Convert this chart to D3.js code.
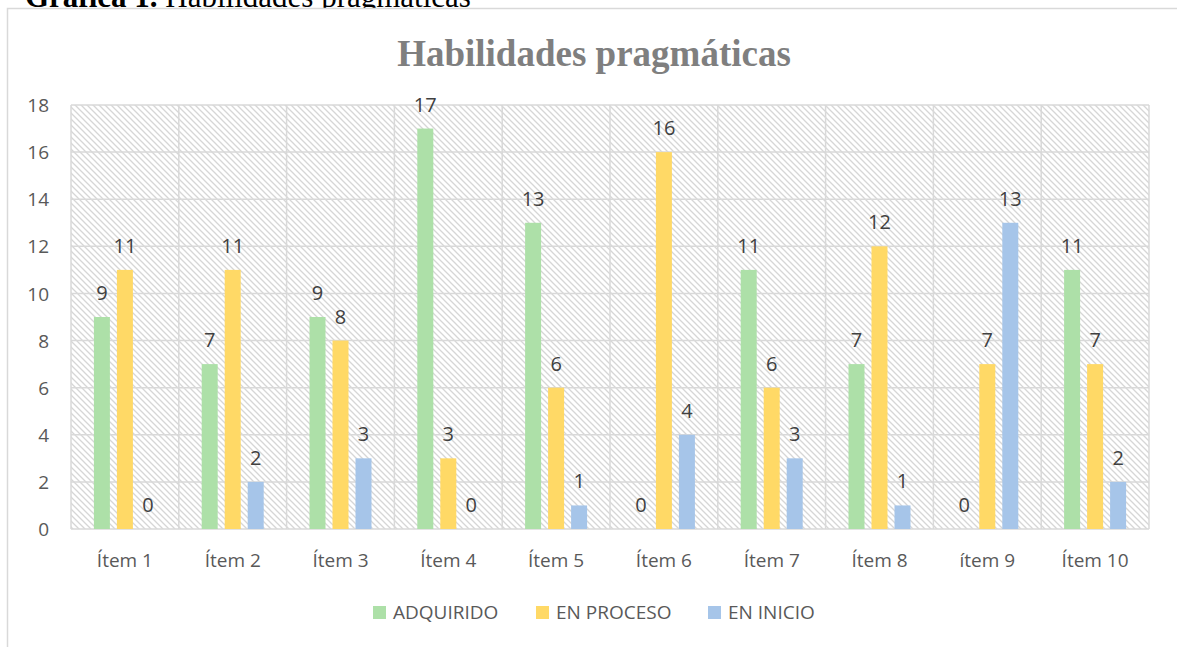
<!DOCTYPE html>
<html>
<head>
<meta charset="utf-8">
<script src="https://cdn.jsdelivr.net/npm/d3@7"></script>
<style>
  html, body { margin: 0; padding: 0; background: #fff; }
  svg { display: block; }
</style>
</head>
<body>
<script>
const categories = ["Ítem 1","Ítem 2","Ítem 3","Ítem 4","Ítem 5","Ítem 6","Ítem 7","Ítem 8","ítem 9","Ítem 10"];
const seriesNames = ["ADQUIRIDO","EN PROCESO","EN INICIO"];
const adquirido = [9,7,9,17,13,0,11,7,0,11];
const enProceso = [11,11,8,3,6,16,6,12,7,7];
const enInicio = [0,2,3,0,1,4,3,1,13,2];
const yTicks = [0,2,4,6,8,10,12,14,16,18];
const colors = ["#ade0a8","#ffd966","#a6c5e9"];
const chartTitle = "Habilidades pragmáticas";

const W = 1177, H = 647;
const svg = d3.select("body").append("svg").attr("width", W).attr("height", H);

const defs = svg.append("defs");
const pat = defs.append("pattern").attr("id","hatch").attr("patternUnits","userSpaceOnUse")
  .attr("width",6).attr("height",6);
pat.append("rect").attr("width",6).attr("height",6).attr("fill","#fff");
pat.append("path").attr("d","M-1,-1 L7,7 M-1,5 L1,7 M5,-1 L7,1")
  .attr("stroke","#d6d6d6").attr("stroke-width",1.3);

// caption above chart (lower part hidden behind the chart)
const cap = svg.append("text").attr("x",25).attr("y",7)
  .attr("font-family","Liberation Serif, Times New Roman, serif").attr("font-size",31).attr("fill","#000");
cap.append("tspan").attr("font-weight","bold").text("Gráfica 1.");
cap.append("tspan").text(" Habilidades pragmáticas");

// chart area (white) and outer border
svg.append("rect").attr("x",7.5).attr("y",8.5).attr("width",W+10).attr("height",H+10)
  .attr("fill","#fff").attr("stroke","#d9d9d9").attr("stroke-width",1.5);

// title
svg.append("text").attr("x",594).attr("y",66).attr("text-anchor","middle")
  .attr("font-family","Liberation Serif, Times New Roman, serif").attr("font-weight","bold")
  .attr("font-size",37).attr("fill","#7f7f7f").text(chartTitle);

const pLeft = 71, pRight = 1149, pTop = 105, pBottom = 529;
const x = d3.scaleBand().domain(categories).range([pLeft,pRight]).paddingInner(0).paddingOuter(0);
const y = d3.scaleLinear().domain([0,18]).range([pBottom,pTop]);

const series = [adquirido, enProceso, enInicio];
const barW = 16, gap = 7;

// hatched plot background
svg.append("rect").attr("x",pLeft).attr("y",pTop).attr("width",pRight-pLeft).attr("height",pBottom-pTop)
  .attr("fill","url(#hatch)");

// horizontal grid
svg.append("g").selectAll("line").data(yTicks).join("line")
  .attr("x1",pLeft).attr("x2",pRight).attr("y1",d=>y(d)).attr("y2",d=>y(d))
  .attr("stroke","#d9d9d9").attr("stroke-width",1.5);
// vertical grid
const vlines = categories.map(c=>x(c)).concat([pRight]);
svg.append("g").selectAll("line").data(vlines).join("line")
  .attr("x1",d=>d).attr("x2",d=>d).attr("y1",pTop).attr("y2",pBottom)
  .attr("stroke","#d9d9d9").attr("stroke-width",1.5);

// bars
const fontSans = "Open Sans, Liberation Sans, sans-serif";
series.forEach((vals, si) => {
  const g = svg.append("g");
  const off = (si-1)*(barW+gap) - barW/2;
  g.selectAll("rect").data(vals).join("rect")
    .attr("x",(d,i)=>x(categories[i]) + x.bandwidth()/2 + off)
    .attr("y",d=>y(d)).attr("width",barW).attr("height",d=>y(0)-y(d))
    .attr("fill",colors[si]);
  g.selectAll("text").data(vals).join("text")
    .attr("x",(d,i)=>x(categories[i]) + x.bandwidth()/2 + off + barW/2)
    .attr("y",d=>y(d)-17).attr("text-anchor","middle")
    .attr("font-family",fontSans).attr("font-size",20).attr("fill","#404040")
    .text(d=>d);
});

// y axis labels
const yAxis = d3.axisLeft(y).tickValues(yTicks).tickSize(0).tickPadding(0);
const ya = svg.append("g").attr("transform",`translate(${pLeft-22},0)`).call(yAxis);
ya.select(".domain").remove();
ya.selectAll("text").attr("font-family",fontSans).attr("font-size",19).attr("fill","#595959")
  .attr("dy","0.35em");

// x axis labels
const xAxis = d3.axisBottom(x).tickSize(0).tickPadding(0);
const xa = svg.append("g").attr("transform",`translate(0,${pBottom+24})`).call(xAxis);
xa.select(".domain").remove();
xa.selectAll("text").attr("font-family",fontSans).attr("font-size",19).attr("fill","#595959")
  .attr("dy","0.71em");

// legend
const legX = [373, 536, 708];
const lg = svg.append("g");
seriesNames.forEach((n,i)=>{
  lg.append("rect").attr("x",legX[i]).attr("y",606).attr("width",13).attr("height",13).attr("fill",colors[i]);
  lg.append("text").attr("x",legX[i]+20).attr("y",619).attr("font-family",fontSans)
    .attr("font-size",19).attr("fill","#595959").text(n);
});
</script>
</body>
</html>
